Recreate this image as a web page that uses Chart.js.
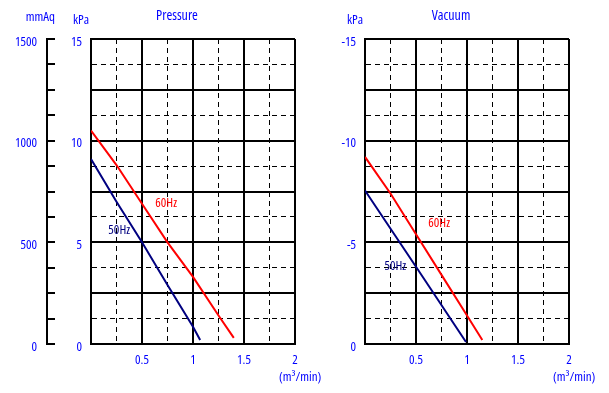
<!DOCTYPE html>
<html>
<head>
<meta charset="utf-8">
<script src="https://cdn.jsdelivr.net/npm/chart.js@4"></script>
<style>
  body { margin: 0; background: #fff; }
  #wrap { position: relative; width: 609px; height: 393px; }
  canvas { position: absolute; top: 0; }
</style>
</head>
<body>
<div id="wrap">
  <canvas id="pressure" width="336" height="393" style="left:0"></canvas>
  <canvas id="vacuum" width="273" height="393" style="left:336px"></canvas>
</div>
<script>
// flow in m3/min, pressure in kPa
const pressureFlow50 = [0, 0.25, 0.5, 0.75, 1.0, 1.07];
const pressureKpa50 = [9.1, 7.0, 5.0, 2.9, 0.85, 0.2];
const pressureFlow60 = [0, 0.25, 0.5, 0.75, 1.0, 1.25, 1.4];
const pressureKpa60 = [10.5, 8.8, 6.9, 5.0, 3.3, 1.4, 0.3];

const vacuumFlow50 = [0, 0.5, 0.99];
const vacuumKpa50 = [-7.55, -3.8, -0.1];
const vacuumFlow60 = [0, 0.25, 0.5, 0.75, 1.0, 1.15];
const vacuumKpa60 = [-9.2, -7.4, -5.4, -3.4, -1.4, -0.2];

const flowTicks = [0.5, 1, 1.5, 2];
const pressureTicks = [0, 5, 10, 15];
const mmAqTicks = [0, 500, 1000, 1500];
const vacuumTicks = [0, -5, -10, -15];

// where the 50Hz / 60Hz names sit, in data units
const pressureNames = [['60Hz', 0.63, 6.9], ['50Hz', 0.17, 5.6]];
const vacuumNames = [['60Hz', 0.62, -5.95], ['50Hz', 0.19, -3.84]];

const BLUE = '#0000ff';
const RED = '#ff0000';
const NAVY = '#000080';
const FAMILY = "'Open Sans', sans-serif";

// 'condensed' goes into the font string, picks the narrow Open Sans
Chart.defaults.font.family = FAMILY;
Chart.defaults.font.weight = 'condensed';
Chart.defaults.font.size = 13;

const toPoints = (xs, ys) => xs.map((x, i) => ({ x: x, y: ys[i] }));

const line = (label, color, xs, ys) => ({
  label: label,
  data: toPoints(xs, ys),
  borderColor: color,
  borderWidth: 2,
  pointRadius: 0,
  tension: 0,
  fill: false,
  yAxisID: 'y'
});

// solid lines on the major steps, thin dashes between
const gridStyle = (isMajor) => ({
  grid: {
    color: '#000',
    lineWidth: ctx => (ctx.tick && !isMajor(ctx.tick.value) ? 1 : 2),
    drawTicks: false
  },
  border: {
    color: '#000',
    width: 2,
    dash: ctx => (ctx.tick && !isMajor(ctx.tick.value) ? [5, 4] : [])
  }
});

const texts = {
  id: 'texts',
  afterDraw(chart, args, opts) {
    const ctx = chart.ctx;
    const a = chart.chartArea;
    const sx = chart.scales.x;
    const sy = chart.scales.y;
    ctx.save();
    ctx.textBaseline = 'middle';
    ctx.fillStyle = BLUE;
    ctx.font = 'condensed 14px ' + FAMILY;
    ctx.textAlign = 'center';
    ctx.fillText(opts.title, a.left + 86, 16);
    ctx.font = 'condensed 13px ' + FAMILY;
    ctx.textAlign = 'right';
    ctx.fillText('kPa', a.left - 2, 20);
    if (chart.scales.mm) {
      ctx.fillText('mmAq', chart.scales.mm.right + 8, 17);
    }
    ctx.textAlign = 'left';
    ctx.fillText('(m³/min)', a.right - 16, a.bottom + 33);
    opts.names.forEach(n => {
      ctx.fillStyle = n[0] === '60Hz' ? RED : NAVY;
      ctx.fillText(n[0], sx.getPixelForValue(n[1]), sy.getPixelForValue(n[2]));
    });
    ctx.restore();
  }
};

const xScale = Object.assign({
  type: 'linear',
  min: 0,
  max: 2,
  ticks: {
    stepSize: 0.25,
    autoSkip: false,
    maxRotation: 0,
    padding: 8,
    color: BLUE,
    callback: v => (flowTicks.includes(v) ? String(v) : '')
  },
  afterFit: s => { s.height = 49; }
}, gridStyle(v => v % 0.5 === 0));

new Chart(document.getElementById('pressure'), {
  type: 'line',
  data: {
    datasets: [
      line('60Hz', RED, pressureFlow60, pressureKpa60),
      line('50Hz', NAVY, pressureFlow50, pressureKpa50)
    ]
  },
  options: {
    responsive: false,
    animation: false,
    layout: { padding: { top: 39, right: 41, left: 0, bottom: 0 } },
    plugins: {
      legend: { display: false },
      tooltip: { enabled: false },
      texts: { title: 'Pressure', names: pressureNames }
    },
    scales: {
      x: xScale,
      y: Object.assign({
        type: 'linear',
        position: 'left',
        weight: 0,
        min: 0,
        max: 15,
        ticks: {
          stepSize: 1.25,
          autoSkip: false,
          padding: 9,
          labelOffset: 3,
          color: BLUE,
          callback: v => (pressureTicks.includes(v) ? String(v) : '')
        },
        afterFit: s => { s.width = 44; }
      }, gridStyle(v => v % 2.5 === 0)),
      mm: {
        type: 'linear',
        position: 'left',
        weight: 1,
        min: 0,
        max: 1500,
        ticks: {
          stepSize: 125,
          autoSkip: false,
          padding: 18,
          labelOffset: 3,
          color: BLUE,
          callback: v => (mmAqTicks.includes(v) ? String(v) : '')
        },
        grid: {
          color: '#000',
          lineWidth: 2,
          drawOnChartArea: false,
          drawTicks: true,
          tickLength: -8
        },
        border: { color: '#000', width: 2 },
        afterFit: s => { s.width = 47; }
      }
    }
  },
  plugins: [texts]
});

new Chart(document.getElementById('vacuum'), {
  type: 'line',
  data: {
    datasets: [
      line('60Hz', RED, vacuumFlow60, vacuumKpa60),
      line('50Hz', NAVY, vacuumFlow50, vacuumKpa50)
    ]
  },
  options: {
    responsive: false,
    animation: false,
    layout: { padding: { top: 39, right: 40, left: 0, bottom: 0 } },
    plugins: {
      legend: { display: false },
      tooltip: { enabled: false },
      texts: { title: 'Vacuum', names: vacuumNames }
    },
    scales: {
      x: Object.assign({}, xScale),
      y: Object.assign({
        type: 'linear',
        position: 'left',
        reverse: true,
        min: -15,
        max: 0,
        ticks: {
          stepSize: 1.25,
          autoSkip: false,
          padding: 9,
          labelOffset: 3,
          color: BLUE,
          callback: v => (vacuumTicks.includes(v) ? String(v) : '')
        },
        afterFit: s => { s.width = 29; }
      }, gridStyle(v => Math.abs(v) % 2.5 === 0))
    }
  },
  plugins: [texts]
});
</script>
</body>
</html>
